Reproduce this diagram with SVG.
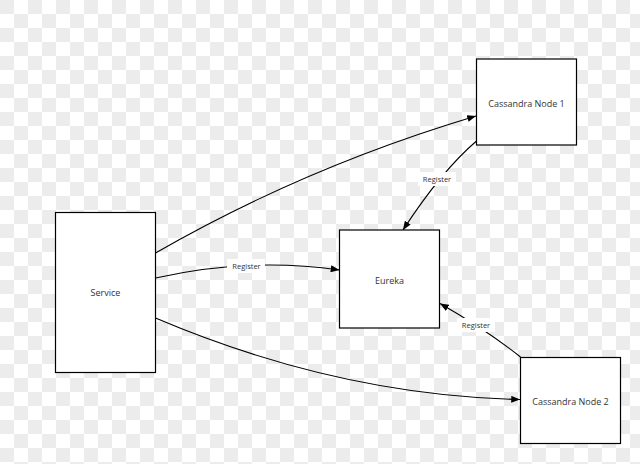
<svg xmlns="http://www.w3.org/2000/svg" width="640" height="464" viewBox="0 0 640 464">
<defs>
<pattern id="checker" x="0" y="0" width="28" height="28" patternUnits="userSpaceOnUse">
<rect width="28" height="28" fill="#ffffff"/>
<rect x="0" y="0" width="14" height="14" fill="#ececec"/>
<rect x="14" y="14" width="14" height="14" fill="#ececec"/>
</pattern>
<marker id="arrow" viewBox="0 0 10 8" refX="10" refY="4" markerWidth="9" markerHeight="7" markerUnits="userSpaceOnUse" orient="auto">
<path d="M0,0 L10,4 L0,8 Z" fill="#000"/>
</marker>
<style>
.box{fill:#ffffff;stroke:#000;stroke-width:1.2}
.lbl{font-family:"Open Sans","Liberation Sans",sans-serif;font-size:9px;fill:#333;text-anchor:middle;dominant-baseline:central}
.conn{fill:none;stroke:#000;stroke-width:1.1;marker-end:url(#arrow)}
.tagbg{fill:#ffffff}
.tag{font-family:"Open Sans","Liberation Sans",sans-serif;font-size:7.5px;fill:#333;text-anchor:middle;dominant-baseline:central}
</style>
</defs>
<rect width="640" height="464" fill="url(#checker)"/>
<g id="connectors">
<path class="conn" d="M155.5,253 Q304,167.5 476,116"/>
<path class="conn" d="M155.5,278 Q248.5,257 339.5,270"/>
<path class="conn" d="M155.5,318 Q338,395.5 520,399.5"/>
<path class="conn" d="M476.5,141 Q441.4,171 403,230"/>
<path class="conn" d="M520.5,357 Q487.5,330.6 440,303.5"/>
<rect class="tagbg" x="227" y="259" width="38" height="14"/>
<text class="tag" x="246.5" y="266">Register</text>
<rect class="tagbg" x="418" y="172" width="38" height="14"/>
<text class="tag" x="437" y="179">Register</text>
<rect class="tagbg" x="457" y="318" width="38" height="14"/>
<text class="tag" x="476" y="325">Register</text>
</g>
<g id="service">
<rect class="box" x="55.5" y="212.5" width="100" height="160"/>
<text class="lbl" x="105.5" y="292">Service</text>
</g>
<g id="eureka">
<rect class="box" x="339.5" y="230" width="100" height="98"/>
<text class="lbl" x="389.5" y="280">Eureka</text>
</g>
<g id="cassandra1">
<rect class="box" x="476.5" y="59" width="100" height="86"/>
<text class="lbl" x="526.5" y="103">Cassandra Node 1</text>
</g>
<g id="cassandra2">
<rect class="box" x="520.5" y="357.5" width="100" height="86"/>
<text class="lbl" x="570.5" y="401.5">Cassandra Node 2</text>
</g>
</svg>
